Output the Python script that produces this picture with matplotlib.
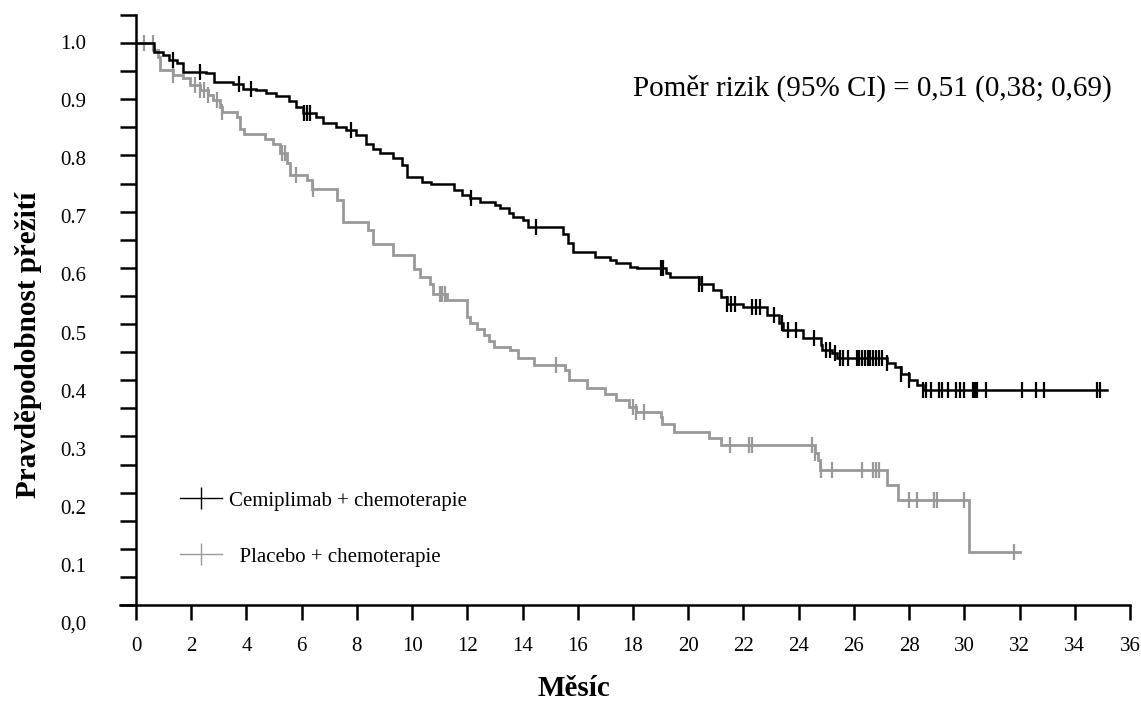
import numpy as np
import matplotlib
matplotlib.use("Agg")
import matplotlib.pyplot as plt
from matplotlib.lines import Line2D

plt.rcParams['font.family'] = ['Liberation Serif', 'DejaVu Serif']

# ---------------- data ----------------
cemi_t = [0, 0.66, 0.97, 1.2, 1.5, 1.69, 2.54, 2.84, 3.5, 3.86, 4.35, 4.7, 5.07, 5.55,
          5.8, 6.04, 6.52, 6.76, 7.25, 7.6, 7.97, 8.33, 8.58, 8.84, 9.32, 9.62, 9.8,
          10.35, 10.7, 11.5, 11.8, 12.1, 12.46, 13.0, 13.2, 13.5, 13.67, 14.03, 14.2,
          15.48, 15.66, 15.84, 16.63, 17.17, 17.4, 17.9, 18.14, 19.2, 19.35, 20.4,
          20.9, 21.2, 21.4, 22.0, 22.85, 23.3, 23.45, 24.17, 24.8, 24.84, 25.2, 25.4,
          27.2, 27.5, 27.7, 28.0, 28.3, 28.5]
cemi_s = [1.0, 0.985, 0.979, 0.970, 0.964, 0.949, 0.946, 0.931, 0.928, 0.919, 0.916,
          0.911, 0.905, 0.897, 0.887, 0.875, 0.869, 0.857, 0.851, 0.845, 0.836, 0.821,
          0.812, 0.804, 0.795, 0.783, 0.762, 0.753, 0.750, 0.738, 0.730, 0.724, 0.718,
          0.712, 0.706, 0.697, 0.691, 0.685, 0.673, 0.661, 0.644, 0.629, 0.620, 0.614,
          0.608, 0.602, 0.599, 0.590, 0.584, 0.572, 0.560, 0.549, 0.536, 0.531, 0.516,
          0.501, 0.489, 0.475, 0.462, 0.454, 0.448, 0.439, 0.430, 0.424, 0.412, 0.400,
          0.391, 0.383]
cemi_end = 35.17
cemi_cens = [1.35, 2.3, 3.74, 4.16, 6.1, 6.2, 6.3, 7.8, 12.15, 14.5, 19.0, 19.1, 20.4,
             20.5, 21.4, 21.55, 21.7, 22.3, 22.45, 22.6, 23.1, 23.4, 23.6, 23.9, 24.57,
             25.0, 25.15, 25.3, 25.5, 25.6, 25.8, 26.1, 26.2, 26.3, 26.4, 26.5, 26.6,
             26.7, 26.8, 26.9, 27.0, 27.2, 27.7, 28.0, 28.5, 28.6, 28.8, 29.1, 29.2,
             29.4, 29.7, 29.86, 30.0, 30.3, 30.4, 30.45, 30.8, 32.1, 32.6, 32.9, 34.8,
             34.9]

plac_t = [0, 0.63, 0.8, 0.87, 1.35, 1.7, 1.96, 2.3, 2.6, 2.8, 3.04, 3.1, 3.65, 3.77,
          3.9, 4.67, 4.97, 5.2, 5.46, 5.58, 6.18, 6.37, 7.27, 7.5, 8.4, 8.6, 9.3, 10.05,
          10.3, 10.65, 10.77, 11.26, 12.0, 12.1, 12.35, 12.6, 12.8, 12.95, 13.55, 13.85,
          14.4, 15.55, 15.67, 16.33, 17.0, 17.4, 17.84, 18.1, 19.0, 19.04, 19.5, 20.74,
          21.2, 24.6, 24.7, 24.78, 27.2, 27.6, 30.16]
plac_s = [1.0, 0.987, 0.976, 0.952, 0.943, 0.937, 0.925, 0.916, 0.907, 0.898, 0.887,
          0.878, 0.869, 0.848, 0.839, 0.830, 0.821, 0.804, 0.786, 0.765, 0.756, 0.741,
          0.720, 0.682, 0.667, 0.643, 0.623, 0.598, 0.584, 0.572, 0.554, 0.543, 0.513,
          0.501, 0.492, 0.480, 0.469, 0.460, 0.454, 0.439, 0.427, 0.418, 0.400, 0.386,
          0.376, 0.365, 0.353, 0.344, 0.335, 0.323, 0.308, 0.297, 0.285, 0.270, 0.258,
          0.240, 0.2135, 0.187, 0.095]
plac_end = 32.03
plac_cens = [0.3, 0.6, 1.35, 2.15, 2.3, 2.45, 2.6, 2.95, 3.1, 5.3, 5.4, 5.8, 6.4, 11.0,
             11.1, 11.2, 15.2, 18.0, 18.1, 18.4, 21.5, 22.2, 22.3, 24.5, 24.6, 24.8,
             25.2, 26.3, 26.7, 26.8, 26.9, 28.0, 28.3, 28.9, 29.0, 30.0, 31.8]

x_ticks = list(range(0, 37, 2))
y_tick_labels = ["0,0", "0.1", "0.2", "0.3", "0.4", "0.5", "0.6", "0.7", "0.8", "0.9", "1.0"]
legend_labels = ["Cemiplimab + chemoterapie", "  Placebo + chemoterapie"]
hr_text = "Poměr rizik (95% CI) = 0,51 (0,38; 0,69)"
x_label = "Měsíc"
y_label = "Pravděpodobnost přežití"

BLACK = "#000000"
GRAY = "#999999"

# ---------------- figure ----------------
W, H = 1141, 704
fig = plt.figure(figsize=(W / 100, H / 100), dpi=100)
ymin, ymax = -0.04, 1.05
ax = fig.add_axes([120 / W, (H - 627.5) / H, 1010 / W, 612.5 / H])
ax.set_xlim(-0.58, 36)
ax.set_ylim(ymin, ymax)


def surv_at(t_arr, s_arr, times):
    idx = np.searchsorted(np.asarray(t_arr), np.asarray(times), side='right') - 1
    return np.asarray(s_arr)[idx]


for t, s, end, cens, col, lw in [(plac_t, plac_s, plac_end, plac_cens, GRAY, 2.0),
                                 (cemi_t, cemi_s, cemi_end, cemi_cens, BLACK, 1.8)]:
    xs = np.append(t, end)
    ys = np.append(s, s[-1])
    ax.step(xs, ys, where='post', color=col, lw=lw, solid_joinstyle='miter')
    ax.plot(cens, surv_at(t, s, cens), linestyle='none', marker='|', markersize=12,
            mew=1.6, color=col)

# spines
for side in ['top', 'right']:
    ax.spines[side].set_visible(False)
ax.spines['left'].set_position(('data', 0))
ax.spines['left'].set_bounds(0, ymax)
ax.spines['bottom'].set_position(('data', 0))
for side in ['left', 'bottom']:
    ax.spines[side].set_linewidth(1.8)

ax.set_xticks(x_ticks)
ax.set_xticklabels([str(v) for v in x_ticks], fontsize=15)
ax.tick_params(axis='x', direction='out', length=11, width=1.8, pad=12)
ax.set_yticks(np.arange(0, 1.051, 0.05))
ax.set_yticklabels([])
ax.tick_params(axis='y', direction='out', length=11.5, width=1.8)

# y tick labels (slightly drifting placement as in the reference)
sec = ax.secondary_yaxis('left', functions=(lambda y: (y + 0.032) / 1.0338,
                                            lambda v: v * 1.0338 - 0.032))
sec.set_yticks(np.arange(0, 1.01, 0.1))
sec.set_yticklabels(y_tick_labels, fontsize=15)
sec.tick_params(length=0, pad=24)
sec.spines['left'].set_visible(False)

ax.set_xlabel(x_label, fontsize=21, fontweight='bold')
ax.xaxis.set_label_coords((574 - 120) / 1010, (627.5 - 675) / 612.5)
ax.set_ylabel(y_label, fontsize=21, fontweight='bold')
ax.yaxis.set_label_coords((42 - 120) / 1010, (627.5 - 345) / 612.5)

ax.text((1112 - 120) / 1010, (627.5 - 88) / 612.5, hr_text, transform=ax.transAxes,
        ha='right', va='center', fontsize=21)

handles = [Line2D([], [], color=BLACK, lw=1.0, marker='|', markersize=16, mew=1.0),
           Line2D([], [], color=GRAY, lw=1.0, marker='|', markersize=16, mew=1.0)]
leg = ax.legend(handles, legend_labels, loc='upper left',
                bbox_to_anchor=((180 - 120) / 1010, (627.5 - 491) / 612.5),
                frameon=False, fontsize=15, handlelength=2.0, handletextpad=0.35,
                labelspacing=1.75, borderpad=0, borderaxespad=0, numpoints=1)

fig.savefig("out.png", dpi=100)
